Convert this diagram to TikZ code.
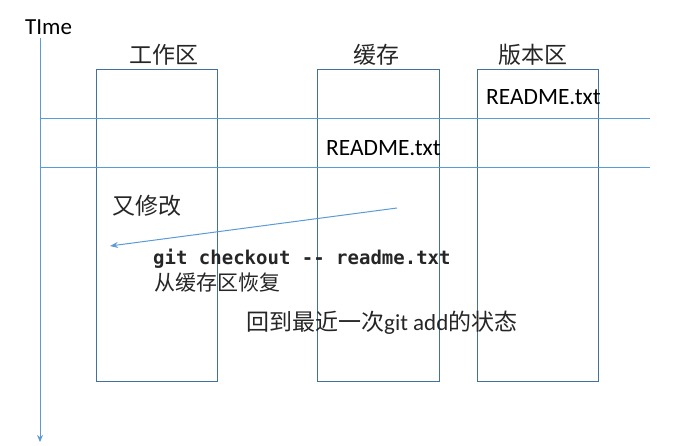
\documentclass[tikz,border=0pt]{standalone}
\usepackage{fontspec}
\setmainfont{Carlito}
\newfontfamily\cjk{Noto Sans CJK SC}
\newfontfamily\monof{DejaVu Sans Mono}
\usetikzlibrary{arrows.meta}
\definecolor{lineblue}{HTML}{5B9BD5}
\definecolor{boxblue}{HTML}{41719C}
\definecolor{txtgray}{HTML}{262626}
\begin{document}
\begin{tikzpicture}[x=1pt,y=-1pt,
  zone/.style={draw=boxblue,line width=1pt},
  guide/.style={draw=lineblue,line width=1pt},
  zlabel/.style={font=\cjk\fontsize{23}{26}\selectfont,text=txtgray,inner sep=0pt},
  fname/.style={font=\fontsize{23.4}{26}\selectfont,inner sep=0pt,anchor=west},
  plain/.style={inner sep=0pt,anchor=west}]
\useasboundingbox (0,0) rectangle (687,446);
% time axis
\node[font=\fontsize{23}{26}\selectfont,inner sep=0pt,anchor=west] (time) at (25,27) {TIme};
\coordinate (tstart) at (40,38);
\coordinate (tend) at (40,442);
\draw[guide,-{Stealth[length=7pt,width=6pt]}] (tstart) -- (tend);
% boxes
\node[zone,minimum width=121pt,minimum height=311pt,inner sep=0pt,anchor=north west] (work) at (95.5,69.5) {};
\node[zone,minimum width=122pt,minimum height=311pt,inner sep=0pt,anchor=north west] (cache) at (316.5,69.5) {};
\node[zone,minimum width=121pt,minimum height=311pt,inner sep=0pt,anchor=north west] (repo) at (476.5,69.5) {};
\node[zlabel] (lwork) at (164,55) {工作区};
\node[zlabel] (lcache) at (376,55) {缓存};
\node[zlabel] (lrepo) at (533,55) {版本区};
% horizontal guides
\coordinate (h1a) at (40,118.5);
\coordinate (h1b) at (650,118.5);
\coordinate (h2a) at (40,167.5);
\coordinate (h2b) at (650,167.5);
\draw[guide] (h1a) -- (h1b);
\draw[guide] (h2a) -- (h2b);
% files
\node[fname] (f1) at (486,97) {README.txt};
\node[fname] (f2) at (326,148) {README.txt};
% modification
\node[plain,font=\cjk\fontsize{23}{26}\selectfont,text=txtgray] (mod) at (112,206) {又修改};
\coordinate (as) at (397,208);
\coordinate (ae) at (110,246);
\draw[guide,-{Stealth[length=8pt,width=6pt]}] (as) -- (ae);
\node[plain,font=\monof\bfseries\fontsize{19}{22}\selectfont,text=txtgray] (cmd) at (153,259) {git checkout -- readme.txt};
\node[plain,font=\cjk\fontsize{21}{24}\selectfont,text=txtgray] (rest) at (154,283) {从缓存区恢复};
\node[plain,font=\fontsize{23}{26}\selectfont,text=txtgray] (back) at (246,323) {{\cjk 回到最近一次}git add{\cjk 的状态}};
\end{tikzpicture}
\end{document}
